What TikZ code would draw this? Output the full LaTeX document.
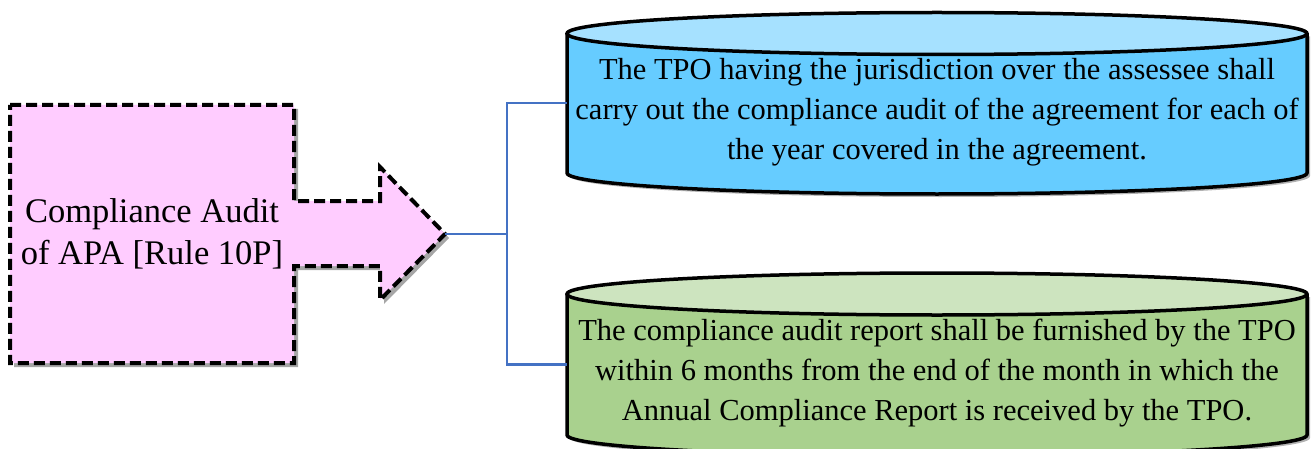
\documentclass[tikz,border=0pt]{standalone}
\usepackage{fontspec}
\setmainfont{Liberation Serif}
\usetikzlibrary{shadows}
\definecolor{pinkfill}{HTML}{FFCCFF}
\definecolor{bluebody}{HTML}{66CCFF}
\definecolor{bluetop}{HTML}{A6E1FF}
\definecolor{greenbody}{HTML}{A9D18E}
\definecolor{greentop}{HTML}{CDE4BF}
\definecolor{connblue}{HTML}{4472C4}
\newcommand\mycyl[3]{%
  \fill[#2, drop shadow={shadow xshift=3pt,shadow yshift=-3pt,opacity=0.3,fill=black}]
    (#1.north west) -- (#1.south west)
    arc[start angle=180,end angle=360,x radius=370pt,y radius=21pt]
    -- (#1.north east) -- cycle;
  \fill[#3] (#1.north) ellipse[x radius=370pt,y radius=21pt];
  \draw[cylline] (#1.north west) -- (#1.south west)
    arc[start angle=180,end angle=360,x radius=370pt,y radius=21pt]
    -- (#1.north east);
  \draw[cylline] (#1.north) ellipse[x radius=370pt,y radius=21pt];
}
\begin{document}
\begin{tikzpicture}[x=1pt,y=1pt,
  leftshape/.style={fill=pinkfill, draw=black, line width=4pt,
    dash pattern=on 11pt off 5pt,
    drop shadow={shadow xshift=4pt,shadow yshift=-4pt,opacity=0.35,fill=black}},
  cylline/.style={draw=black, line width=3.5pt},
  anchorbox/.style={shape=rectangle, inner sep=0pt, outer sep=0pt},
  lefttext/.style={align=center, font=\fontsize{34.5}{42}\selectfont, inner sep=0pt},
  cyltext/.style={align=center, font=\fontsize{30.5}{40}\selectfont, inner sep=0pt},
  conn/.style={draw=connblue, line width=2.5pt}]
\useasboundingbox (0,0) rectangle (1314,448);
\clip (0,0) rectangle (1314,448);

% left box with arrow
\node[anchorbox, minimum width=284pt, minimum height=258pt] (box) at (152,214) {};
\coordinate (tip) at (445,214);
\path[leftshape] (box.north west) -- (box.north east) -- (294,247) -- (380,247)
  -- (380,281) -- (tip) -- (380,148) -- (380,182) -- (294,182)
  -- (box.south east) -- (box.south west) -- cycle;
\node[lefttext] (boxtext) at (box.center) {Compliance Audit\\of APA [Rule 10P]};

% cylinders
\node[anchorbox, minimum width=740pt, minimum height=139.5pt] (cylA) at (937,344.75) {};
\mycyl{cylA}{bluebody}{bluetop}
\node[cyltext] (txtA) at ([yshift=-9pt]cylA.center)
  {The TPO having the jurisdiction over the assessee shall\\
   carry out the compliance audit of the agreement for each of\\
   the year covered in the agreement.};

\node[anchorbox, minimum width=740pt, minimum height=141pt] (cylB) at (937,83.5) {};
\mycyl{cylB}{greenbody}{greentop}
\node[cyltext] (txtB) at ([yshift=-9pt]cylB.center)
  {The compliance audit report shall be furnished by the TPO\\
   within 6 months from the end of the month in which the\\
   Annual Compliance Report is received by the TPO.};

% connectors
\coordinate (fork) at (507,214);
\draw[conn] (tip) -- (fork);
\draw[conn] (fork) |- (cylA.west);
\draw[conn] (fork) |- (cylB.west);
\end{tikzpicture}
\end{document}
